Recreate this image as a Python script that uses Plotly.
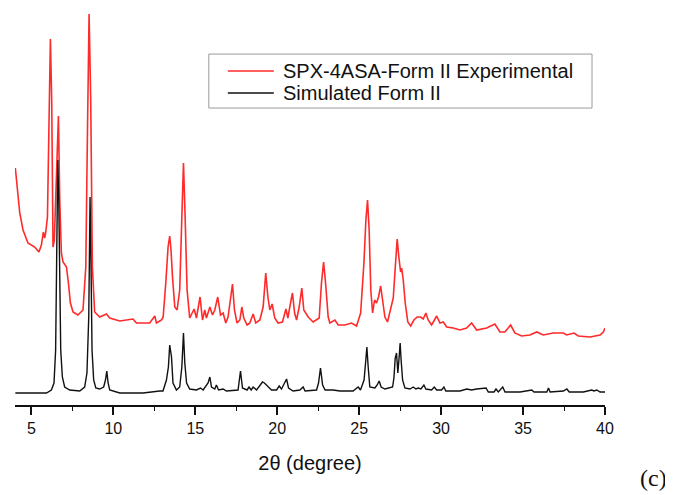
import plotly.graph_objects as go

# Experimental pattern (red) : 2theta (degree), intensity (a.u.)
exp_2theta = [4.02, 4.18, 4.29, 4.49, 4.79, 5.20, 5.46, 5.61, 5.73, 5.81, 5.87, 5.98, 6.07, 6.16, 6.24,
              6.32, 6.40, 6.53, 6.65, 6.73, 6.83, 6.93, 7.14, 7.26, 7.38, 7.54, 7.84, 8.15, 8.32, 8.42,
              8.52, 8.62, 8.72, 8.86, 9.17, 9.58, 9.78, 10.39, 11.20, 11.41, 12.22, 12.53, 12.63, 12.94, 13.04,
              13.20, 13.34, 13.44, 13.52, 13.61, 13.75, 13.89, 14.05, 14.18, 14.28, 14.38, 14.50, 14.66, 14.93, 15.07,
              15.29, 15.44, 15.58, 15.68, 15.89, 16.05, 16.19, 16.37, 16.54, 16.70, 16.86, 17.00, 17.15, 17.27, 17.39,
              17.55, 17.72, 17.84, 17.96, 18.16, 18.33, 18.53, 18.69, 18.94, 19.14, 19.30, 19.43, 19.55, 19.69, 19.85,
              20.05, 20.32, 20.53, 20.65, 20.81, 20.93, 21.06, 21.18, 21.34, 21.50, 21.62, 21.75, 21.89, 22.19, 22.56,
              22.70, 22.83, 22.95, 23.11, 23.21, 23.52, 23.72, 24.13, 24.54, 24.84, 25.09, 25.29, 25.41, 25.51, 25.61,
              25.71, 25.82, 25.94, 26.06, 26.18, 26.31, 26.43, 26.57, 26.73, 26.92, 27.08, 27.22, 27.32, 27.42, 27.53,
              27.59, 27.69, 27.81, 27.97, 28.14, 28.34, 28.54, 28.75, 28.91, 29.07, 29.21, 29.42, 29.73, 29.93, 30.13,
              30.34, 30.74, 31.15, 31.56, 31.86, 32.17, 32.78, 33.28, 33.59, 33.89, 34.24, 34.50, 34.91, 35.42, 35.83,
              36.23, 36.84, 37.46, 37.66, 38.11, 38.37, 39.09, 39.70, 39.90, 40.00]
exp_intensity = [237, 205, 192, 175, 162, 158, 153, 160, 173, 167, 172, 188, 272, 366, 305,
                 158, 165, 238, 289, 205, 152, 143, 138, 122, 102, 93, 90, 95, 138, 272,
                 391, 305, 138, 93, 88, 91, 87, 84, 86, 82, 82, 89, 82, 85, 88,
                 122, 158, 169, 155, 128, 98, 95, 115, 188, 242, 188, 115, 87, 96, 87,
                 108, 85, 95, 87, 98, 90, 95, 108, 90, 92, 82, 88, 105, 121, 95,
                 82, 85, 98, 87, 80, 82, 91, 82, 85, 98, 132, 108, 95, 101, 87,
                 82, 83, 96, 87, 102, 112, 92, 85, 98, 117, 95, 92, 88, 83, 87,
                 122, 143, 122, 88, 82, 85, 80, 80, 82, 79, 92, 142, 185, 205, 175,
                 115, 92, 105, 102, 108, 119, 105, 88, 83, 98, 107, 142, 166, 148, 133,
                 137, 125, 102, 83, 79, 85, 88, 88, 86, 92, 85, 80, 89, 82, 83,
                 78, 77, 75, 77, 82, 75, 77, 81, 73, 73, 80, 72, 69, 70, 73,
                 70, 72, 72, 70, 72, 69, 68, 70, 73, 77]

# Simulated pattern (black)
sim_2theta = [4.02, 5.92, 6.22, 6.38, 6.48, 6.54, 6.61, 6.67, 6.73, 6.79, 6.89, 7.03, 7.34, 7.95, 8.25,
              8.39, 8.50, 8.58, 8.64, 8.70, 8.80, 8.93, 9.17, 9.41, 9.52, 9.60, 9.68, 9.78, 10.39, 11.81,
              12.83, 13.03, 13.24, 13.36, 13.44, 13.55, 13.64, 13.85, 14.05, 14.18, 14.28, 14.36, 14.47, 14.66, 15.07,
              15.32, 15.48, 15.78, 15.89, 15.99, 16.19, 16.29, 16.42, 16.70, 16.90, 17.61, 17.76, 17.88, 18.16, 18.28,
              18.41, 18.53, 18.74, 18.98, 19.10, 19.22, 19.35, 19.47, 19.65, 19.96, 20.12, 20.26, 20.40, 20.57, 20.69,
              20.97, 21.38, 21.58, 21.70, 22.40, 22.52, 22.64, 22.77, 22.92, 23.41, 23.82, 24.63, 24.94, 25.08, 25.30,
              25.39, 25.47, 25.55, 25.65, 25.96, 26.10, 26.22, 26.34, 26.57, 26.87, 27.04, 27.12, 27.20, 27.28, 27.36,
              27.44, 27.50, 27.56, 27.65, 27.79, 28.10, 28.30, 28.46, 28.60, 28.77, 28.95, 29.07, 29.42, 29.58, 29.73,
              30.03, 30.17, 30.29, 31.15, 31.56, 31.86, 32.17, 32.74, 32.88, 33.23, 33.35, 33.49, 33.76, 33.90, 34.82,
              35.53, 35.67, 36.45, 36.55, 36.65, 37.46, 37.67, 37.82, 38.68, 39.19, 39.33, 39.50, 39.70, 40.00]
sim_intensity = [12, 12, 15, 22, 55, 138, 245, 205, 122, 55, 28, 18, 15, 14, 18,
                 32, 88, 208, 138, 55, 25, 17, 16, 18, 25, 34, 22, 15, 12, 12,
                 14, 14, 25, 38, 60, 48, 22, 15, 18, 38, 72, 42, 22, 16, 15,
                 17, 15, 22, 28, 18, 16, 20, 15, 16, 14, 15, 34, 17, 15, 18,
                 15, 18, 15, 20, 23, 22, 20, 18, 15, 15, 19, 16, 20, 26, 17,
                 14, 15, 18, 14, 15, 22, 37, 20, 15, 15, 14, 14, 18, 15, 25,
                 42, 58, 38, 18, 17, 20, 24, 18, 16, 17, 18, 27, 47, 52, 32,
                 48, 62, 45, 25, 17, 16, 18, 16, 17, 16, 20, 16, 15, 18, 15,
                 15, 18, 14, 14, 16, 15, 16, 17, 13, 13, 16, 13, 18, 13, 13,
                 15, 13, 13, 17, 13, 14, 16, 13, 13, 15, 14, 15, 13, 13]

x_ticks = [5, 10, 15, 20, 25, 30, 35, 40]
series_names = ["SPX-4ASA-Form II Experimental", "Simulated Form II"]
series_colors = ["#ff2a2a", "#111111"]

FONT = "Liberation Sans, Arial, sans-serif"

fig = go.Figure()
fig.add_trace(go.Scatter(x=exp_2theta, y=exp_intensity, mode="lines", name=series_names[0],
                         line=dict(color=series_colors[0], width=1.6)))
fig.add_trace(go.Scatter(x=sim_2theta, y=sim_intensity, mode="lines", name=series_names[1],
                         line=dict(color=series_colors[1], width=1.4)))

# Legend drawn as a boxed key (paper coordinates)
box_x0, box_x1, box_y0, box_y1 = 0.3285, 0.978, 0.748, 0.884
key_x0, key_x1, text_x = 0.3607, 0.4387, 0.4506
row_y = [0.8413, 0.7859]

shapes = [dict(type="rect", xref="paper", yref="paper", x0=box_x0, x1=box_x1, y0=box_y0, y1=box_y1,
               line=dict(color="#9a9a9a", width=1), fillcolor="white", layer="above")]
annotations = []
for name, color, yy in zip(series_names, series_colors, row_y):
    shapes.append(dict(type="line", xref="paper", yref="paper", x0=key_x0, x1=key_x1, y0=yy, y1=yy,
                       line=dict(color=color, width=1.6), layer="above"))
    annotations.append(dict(text=name, x=text_x, y=yy, xref="paper", yref="paper", showarrow=False,
                            xanchor="left", yanchor="middle",
                            font=dict(family=FONT, size=20, color="#111111")))

annotations.append(dict(text="(c)", x=1.083, y=-0.2215, xref="paper", yref="paper", showarrow=False,
                        xanchor="center", yanchor="bottom",
                        font=dict(family="Liberation Serif, Times New Roman, serif", size=24, color="#111111")))

fig.update_layout(
    width=665, height=487,
    margin=dict(l=7.3, r=68, t=0, b=90, autoexpand=False),
    paper_bgcolor="white", plot_bgcolor="white",
    font=dict(family=FONT, color="#111111"),
    showlegend=False,
    shapes=shapes,
    annotations=annotations,
    xaxis=dict(
        range=[4, 40], showgrid=False, zeroline=False,
        showline=True, linecolor="#111111", linewidth=2,
        tickmode="array", tickvals=x_ticks, ticktext=[str(v) for v in x_ticks],
        ticks="outside", ticklen=8, tickwidth=1.5, tickcolor="#111111",
        tickfont=dict(family=FONT, size=16, color="#111111"),
        minor=dict(dtick=2.5, tick0=0, ticks="outside", ticklen=4, tickwidth=1.2, tickcolor="#111111"),
        title=dict(text="2\u03b8 (degree)", font=dict(family=FONT, size=20, color="#111111"), standoff=20),
    ),
    yaxis=dict(range=[0, 397], visible=False, showgrid=False, zeroline=False),
)

fig.write_html("out.html")
